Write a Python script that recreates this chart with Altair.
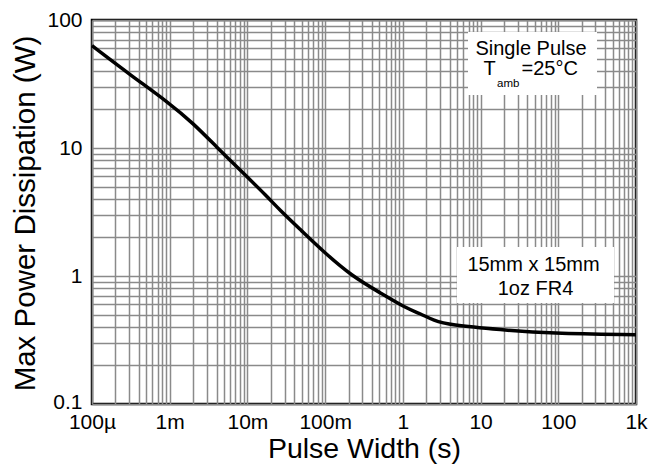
import math
import altair as alt
import pandas as pd

# ---- data ----
pulse_width = [1e-4, 3.16e-4, 1e-3, 2e-3, 4e-3, 9e-3, 1.8e-2, 2.6e-2, 5e-2, 9.5e-2,
               0.22, 0.51, 1.1, 1.66, 2.5, 4, 18, 78, 1000]
max_power = [63, 37, 22.3, 15.6, 10.2, 6.3, 4.17, 3.28, 2.25, 1.55,
             1.0, 0.74, 0.56, 0.51, 0.448, 0.414, 0.38, 0.356, 0.347]

x_decades = [1e-4, 1e-3, 1e-2, 1e-1, 1, 10, 100, 1000]
x_labels = ["100µ", "1m", "10m", "100m", "1", "10", "100", "1k"]
y_decades = [0.1, 1, 10, 100]
y_labels = ["0.1", "1", "10", "100"]

note1 = "Single Pulse"
note2_main, note2_sub, note2_tail = "T", "amb", "=25°C"
note3 = ["15mm x 15mm", "1oz FR4"]

FONT = "Liberation Sans"
GRID = "#8a8a8a"


def minor_grid(decades):
    vals = []
    for d in decades[:-1]:
        for k in range(1, 10):
            vals.append(round(d * k, 10))
    vals.append(decades[-1])
    return vals


def label_expr(decades, labels):
    lo = round(math.log10(decades[0]))
    arr = "[" + ",".join("'" + s + "'" for s in labels) + "]"
    lg = "log(datum.value)/LN10"
    return f"abs({lg} - round({lg})) < 0.001 ? {arr}[round({lg}) - ({lo})] : ''"


df = pd.DataFrame({"t": pulse_width, "p": max_power})
one = pd.DataFrame({"a": [0]})

W, H = 544, 384

x_axis = alt.Axis(
    values=minor_grid(x_decades), labelExpr=label_expr(x_decades, x_labels),
    grid=True, gridColor=GRID, gridWidth=1.5, gridOpacity=1,
    ticks=False, tickSize=0, domain=False,
    labelFont=FONT, labelFontSize=21, labelColor="black", labelPadding=7,
    labelBaseline="top", labelFlush=False, labelOverlap=False,
    title="Pulse Width (s)", titleFont=FONT, titleFontSize=28.5, titleFontWeight="normal",
    titleColor="black", titleX=272, titleY=53, titleBaseline="alphabetic", titleAlign="center",
)
y_axis = alt.Axis(
    values=minor_grid(y_decades), labelExpr=label_expr(y_decades, y_labels),
    grid=True, gridColor=GRID, gridWidth=1.5, gridOpacity=1,
    ticks=False, tickSize=0, domain=False,
    labelFont=FONT, labelFontSize=21, labelColor="black", labelPadding=10,
    labelFlush=False, labelOverlap=False,
    labelOffset={"condition": {"test": "datum.value < 0.11", "value": -2}, "value": 0},
    title="Max Power Dissipation (W)", titleFont=FONT, titleFontSize=29.5, titleFontWeight="normal",
    titleColor="black", titleX=-58, titleY=193, titleAngle=-90, titleBaseline="alphabetic",
    titleAlign="center",
)

curve = alt.Chart(df).mark_line(color="black", strokeWidth=3.5, interpolate="basis").encode(
    x=alt.X("t:Q", scale=alt.Scale(type="log", domain=[x_decades[0], x_decades[-1]], nice=False), axis=x_axis),
    y=alt.Y("p:Q", scale=alt.Scale(type="log", domain=[y_decades[0], y_decades[-1]], nice=False), axis=y_axis),
)

ann = alt.Chart(one)
box1 = ann.mark_rect(color="white").encode(
    x=alt.value(376), x2=alt.value(505), y=alt.value(12), y2=alt.value(75))
box2 = ann.mark_rect(color="white").encode(
    x=alt.value(365), x2=alt.value(522), y=alt.value(227), y2=alt.value(283))


def txt(s, x, y, size=20, align="center"):
    return ann.mark_text(text=s, font=FONT, fontSize=size, color="black",
                         align=align, baseline="alphabetic").encode(
        x=alt.value(x), y=alt.value(y))


texts = [
    txt(note1, 439, 34.5),
    txt(note2_main, 391.5, 55, align="left"),
    txt(note2_sub, 405, 67, size=11.5, align="left"),
    txt(note2_tail, 429.5, 55, align="left"),
    txt(note3[0], 441.5, 250.5),
    txt(note3[1], 443.5, 275),
]

chart = alt.layer(box1, box2, curve, *texts).properties(
    width=W, height=H,
    autosize=alt.AutoSizeParams(type="none"),
    padding={"left": 92, "top": 20, "right": 31, "bottom": 64},
    background="white",
).configure_view(stroke="black", strokeWidth=2.5)

chart.save("out.html", embed_options={"renderer": "svg", "actions": False})
